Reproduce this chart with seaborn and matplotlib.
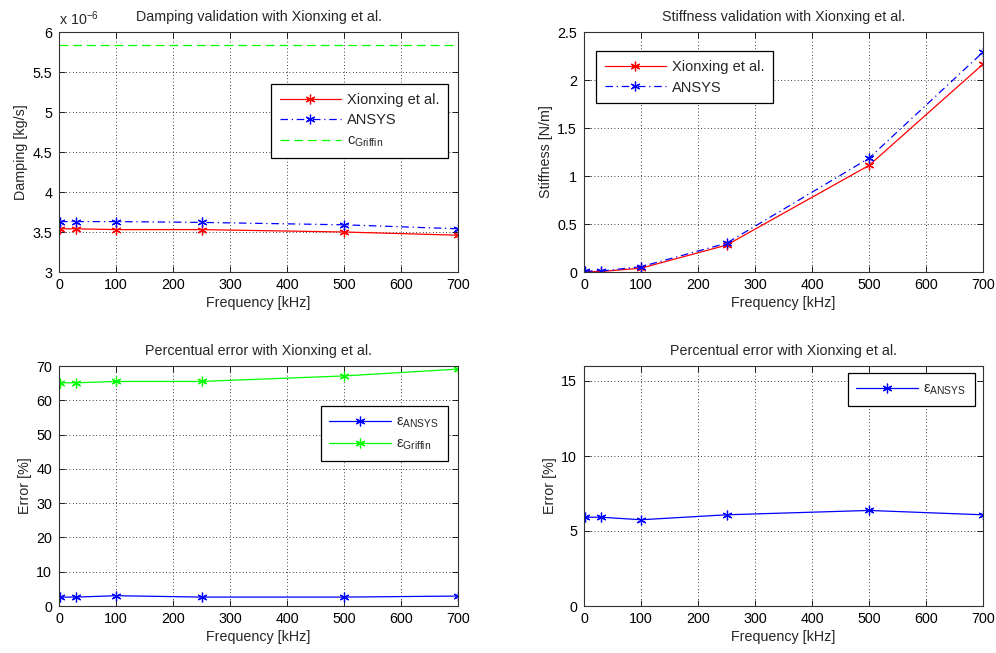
import matplotlib
matplotlib.use("Agg")
import matplotlib.pyplot as plt
import seaborn as sns
import numpy as np

# Frequencies of the simulated cases [kHz]
freq = [2, 30, 100, 250, 500, 700]

# Damping [x 1e-6 kg/s]
damp_xionxing = [3.54, 3.54, 3.53, 3.53, 3.50, 3.46]
damp_ansys = [3.63, 3.63, 3.63, 3.62, 3.59, 3.54]
damp_griffin = [5.84, 5.84]
griffin_freq = [0, 700]

# Stiffness [N/m]
stiff_xionxing = [0.005, 0.005, 0.04, 0.28, 1.11, 2.165]
stiff_ansys = [0.01, 0.01, 0.055, 0.30, 1.185, 2.29]

# Percentual errors [%]
err_damp_ansys = [2.6, 2.6, 3.0, 2.6, 2.6, 2.9]
err_damp_griffin = [65.1, 65.1, 65.5, 65.5, 67.1, 69.1]
err_stiff_ansys = [5.92, 5.92, 5.75, 6.08, 6.37, 6.08]

sns.set_style("white")
plt.rcParams["font.family"] = ["Liberation Sans", "DejaVu Sans"]
plt.rcParams["mathtext.default"] = "regular"
plt.rcParams["font.size"] = 10

RED, BLUE, GREEN = "#ff0000", "#0000ff", "#00ff00"
STAR = (6, 2, 0)
W, H = 996, 653
FS = 10.3

fig = plt.figure(figsize=(W / 100, H / 100), dpi=100)
fig.patch.set_facecolor("white")


def make_axes(x0, y0, x1, y1):
    return fig.add_axes([x0 / W, 1 - y1 / H, (x1 - x0) / W, (y1 - y0) / H])


def style_axes(ax, ylim, yticks, title, ylabel):
    ax.set_xlim(0, 700)
    ax.set_xticks(range(0, 701, 100))
    ax.set_ylim(*ylim)
    ax.set_yticks(yticks)
    ax.grid(True, color="black", linestyle=(0, (1, 3)), linewidth=0.6)
    ax.tick_params(direction="in", length=4, width=0.6, top=True, right=True,
                   bottom=True, left=True, labelsize=FS, colors="black")
    ax.tick_params(axis="y", pad=5)
    ax.tick_params(axis="x", pad=4)
    for s in ax.spines.values():
        s.set_color("#333333")
        s.set_linewidth(0.8)
    ax.set_title(title, fontsize=FS, pad=8)
    ax.set_xlabel("Frequency [kHz]", fontsize=FS, labelpad=3)
    ax.set_ylabel(ylabel, fontsize=FS, labelpad=3)


def legend(ax, loc, anchor):
    leg = ax.legend(loc=loc, bbox_to_anchor=anchor, frameon=True, fancybox=False,
                    edgecolor="black", framealpha=1, fontsize=10.5, handlelength=4.2,
                    numpoints=1, borderpad=0.6, labelspacing=0.45, handletextpad=0.4,
                    borderaxespad=0)
    leg.get_frame().set_linewidth(0.9)


line_kw = dict(linewidth=0.9, markersize=7, markeredgewidth=0.9)

# Damping validation
ax1 = make_axes(59, 32, 458, 272)
sns.lineplot(x=freq, y=damp_xionxing, ax=ax1, color=RED, marker=STAR,
             mec=RED, linestyle="-", label="Xionxing et al.", **line_kw)
sns.lineplot(x=freq, y=damp_ansys, ax=ax1, color=BLUE, marker=STAR,
             mec=BLUE, linestyle=(0, (6, 3, 1, 3)), label="ANSYS", **line_kw)
sns.lineplot(x=griffin_freq, y=damp_griffin, ax=ax1, color=GREEN,
             linestyle=(0, (7, 4)), linewidth=0.9, label="c$_{Griffin}$")
style_axes(ax1, (3, 6), np.arange(3, 6.01, 0.5), "Damping validation with Xionxing et al.",
           "Damping [kg/s]")
ax1.set_yticklabels(["3", "3.5", "4", "4.5", "5", "5.5", "6"])
ax1.text(0.0, 1.015, "x 10$^{-6}$", transform=ax1.transAxes, fontsize=FS,
         ha="left", va="bottom")
legend(ax1, "upper right", (0.975, 0.783))

# Stiffness validation
ax2 = make_axes(584, 32, 983, 272)
sns.lineplot(x=freq, y=stiff_xionxing, ax=ax2, color=RED, marker=STAR,
             mec=RED, linestyle="-", label="Xionxing et al.", **line_kw)
sns.lineplot(x=freq, y=stiff_ansys, ax=ax2, color=BLUE, marker=STAR,
             mec=BLUE, linestyle=(0, (6, 3, 1, 3)), label="ANSYS", **line_kw)
style_axes(ax2, (0, 2.5), np.arange(0, 2.51, 0.5), "Stiffness validation with Xionxing et al.",
           "Stiffness [N/m]")
ax2.set_yticklabels(["0", "0.5", "1", "1.5", "2", "2.5"])
legend(ax2, "upper left", (0.03, 0.92))

# Damping errors
ax3 = make_axes(59, 366, 458, 606)
sns.lineplot(x=freq, y=err_damp_ansys, ax=ax3, color=BLUE, marker=STAR,
             mec=BLUE, linestyle="-", label=r"$\epsilon_{ANSYS}$", **line_kw)
sns.lineplot(x=freq, y=err_damp_griffin, ax=ax3, color=GREEN, marker=STAR,
             mec=GREEN, linestyle="-", label=r"$\epsilon_{Griffin}$", **line_kw)
style_axes(ax3, (0, 70), range(0, 71, 10), "Percentual error with Xionxing et al.", "Error [%]")
legend(ax3, "upper right", (0.975, 0.833))

# Stiffness error
ax4 = make_axes(584, 366, 983, 606)
sns.lineplot(x=freq, y=err_stiff_ansys, ax=ax4, color=BLUE, marker=STAR,
             mec=BLUE, linestyle="-", label=r"$\epsilon_{ANSYS}$", **line_kw)
style_axes(ax4, (0, 16), range(0, 16, 5), "Percentual error with Xionxing et al.", "Error [%]")
legend(ax4, "upper right", (0.98, 0.971))

fig.savefig("out.png", dpi=100, facecolor="white")
